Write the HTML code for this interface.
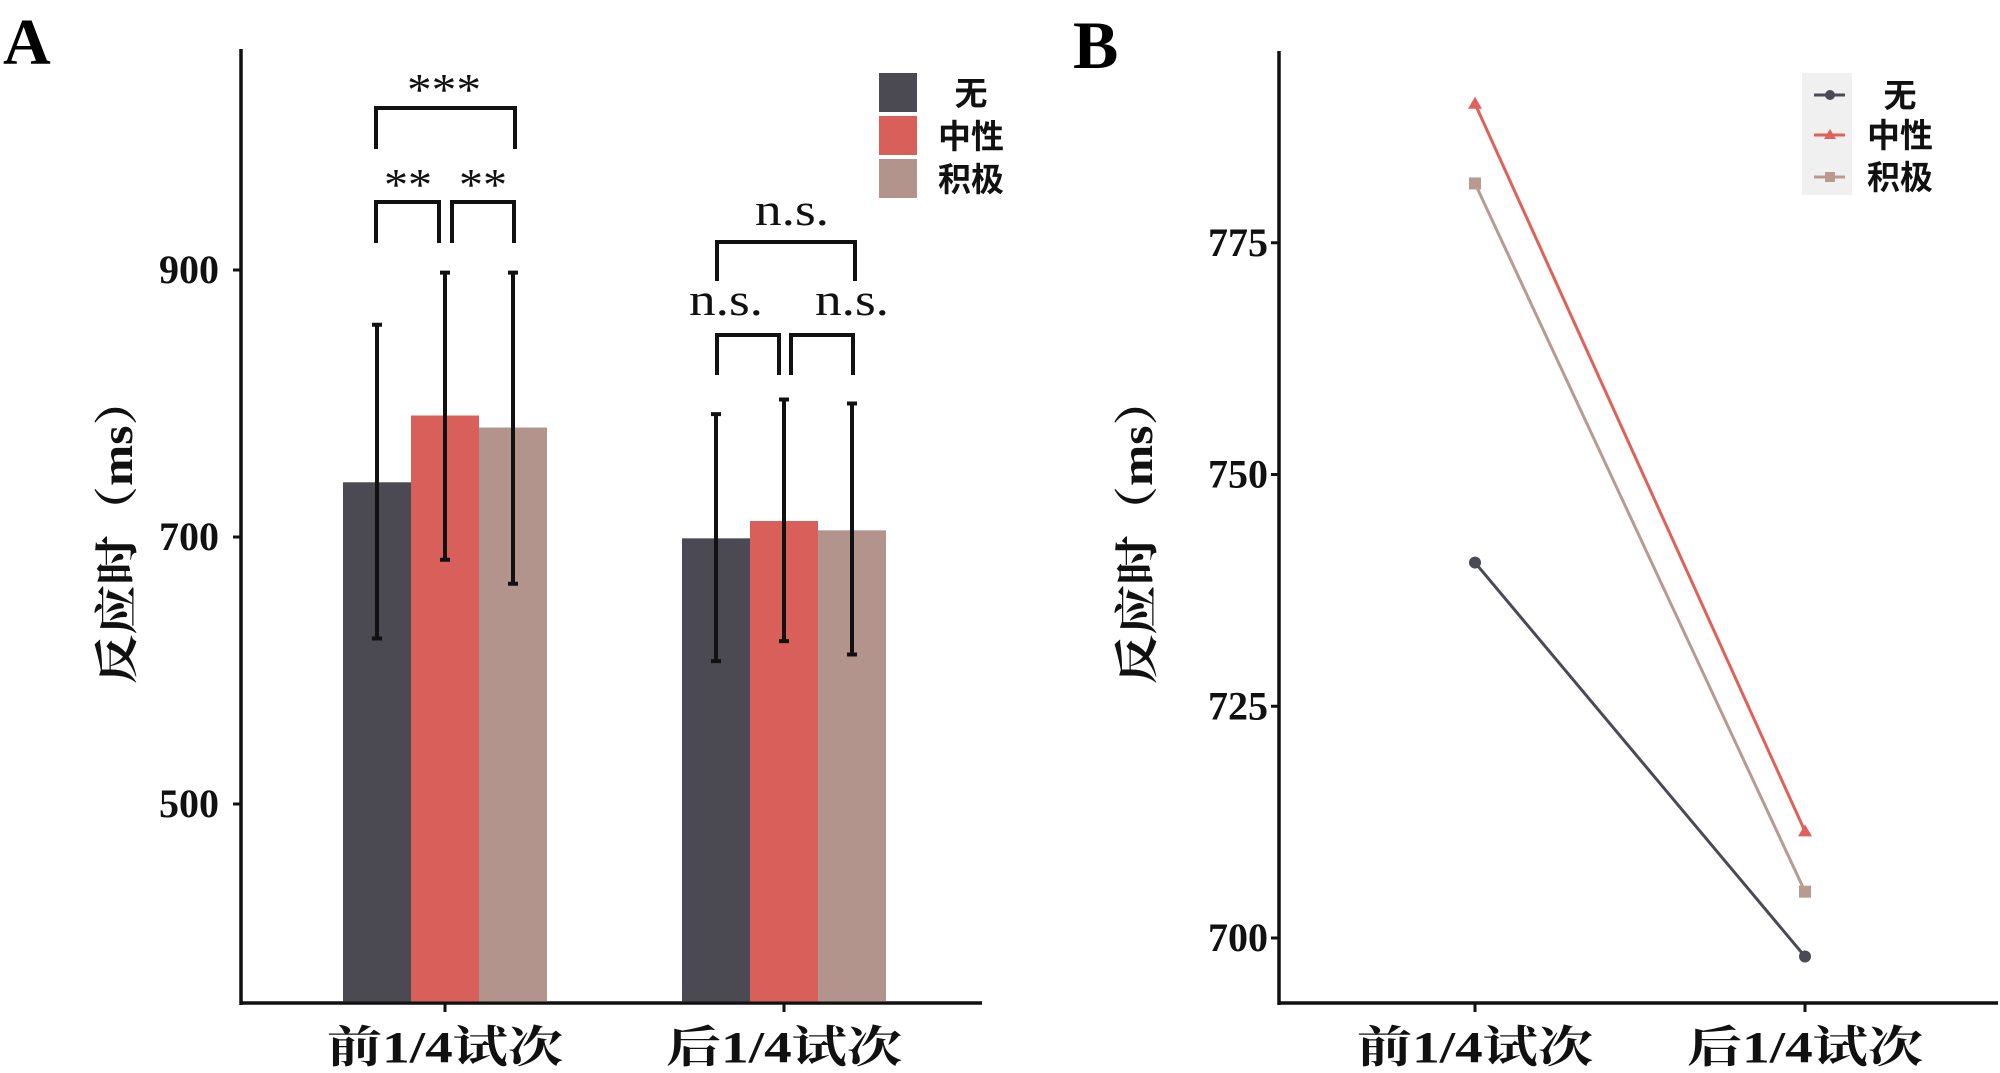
<!DOCTYPE html>
<html><head><meta charset="utf-8">
<style>
html,body{margin:0;padding:0;background:#fff;}
svg{display:block;}
.tick{font-family:"Liberation Serif",serif;font-weight:bold;font-size:40px;fill:#111;}
.cjk{font-family:"Liberation Serif","Noto Serif CJK SC","Noto Sans CJK SC",serif;font-weight:bold;fill:#111;}
.leg{font-family:"Liberation Sans","Noto Sans CJK SC",sans-serif;font-weight:bold;font-size:33px;fill:#111;}
.sig{font-family:"Liberation Serif",serif;font-size:46px;fill:#111;}
</style></head>
<body>
<svg id="chart" width="2000" height="1073" viewBox="0 0 2000 1073" xmlns="http://www.w3.org/2000/svg">
<text x="3" y="64" font-family="Liberation Serif,serif" font-weight="bold" font-size="66">A</text>
<text x="1073" y="68" font-family="Liberation Serif,serif" font-weight="bold" font-size="68">B</text>
<g id="pa"></g>
<g id="pb"></g>
</svg>
<script>
const categories = ["前1/4试次", "后1/4试次"];
const seriesNames = ["无", "中性", "积极"];
const barMeans = [[741, 699], [791, 712], [782, 705]];
const barUpper = [[859, 792], [898, 803], [898, 800]];
const barLower = [[624, 607], [683, 622], [665, 612]];
const aTicks = [500, 700, 900];
const bTicks = [700, 725, 750, 775];
const lineMeans = [[740.5, 698.0], [790.0, 711.5], [781.4, 705.0]];

const NS = "http://www.w3.org/2000/svg";
function mk(parent, tag, attrs, text) {
  const e = document.createElementNS(NS, tag);
  for (const k in attrs) e.setAttribute(k, attrs[k]);
  if (text !== undefined) e.textContent = text;
  parent.appendChild(e);
  return e;
}
const barColors = ["#4b4a53", "#d9605a", "#b3948c"];
const lineColors = ["#4a4a55", "#e0605a", "#b89a90"];

// ---------- Panel A ----------
const pa = document.getElementById("pa");
const aY = v => 537 - (v - 700) * 1.335;
const aX0 = 241, aXEnd = 982, aYTop = 49, aYBot = 1003;
const aCenters = [445, 784];
const bw = 68;
let e;
e = mk(pa, "line", {x1: aX0, y1: aYTop, x2: aX0, y2: aYBot + 2, stroke: "#111", "stroke-width": 3.5});
 
e = mk(pa, "line", {x1: aX0 - 1, y1: aYBot, x2: aXEnd, y2: aYBot, stroke: "#111", "stroke-width": 3.5});
 
aTicks.forEach(t => {
  const y = aY(t);
  e = mk(pa, "line", {x1: aX0 - 8, y1: y, x2: aX0, y2: y, stroke: "#111", "stroke-width": 3});
   
  e = mk(pa, "text", {x: 219, y: y + 13, "text-anchor": "end", class: "tick"}, String(t));
   
});
categories.forEach((c, ci) => {
  const cx = aCenters[ci];
  e = mk(pa, "line", {x1: cx, y1: aYBot, x2: cx, y2: aYBot + 9, stroke: "#111", "stroke-width": 3});
   
  e = mk(pa, "text", {x: cx, y: 1062, "text-anchor": "middle", class: "cjk", "font-size": 44, textLength: 236, lengthAdjust: "spacingAndGlyphs"}, c);
   
  seriesNames.forEach((s, si) => {
    const x = cx - 1.5 * bw + si * bw;
    const top = aY(barMeans[si][ci]);
    e = mk(pa, "rect", {x: x, y: top, width: bw, height: aYBot - top - 1.5, fill: barColors[si]});
     
    const mx = x + bw / 2, yu = aY(barUpper[si][ci]), yl = aY(barLower[si][ci]);
    e = mk(pa, "path", {d: `M${mx},${yu}V${yl}M${mx-5},${yu}H${mx+5}M${mx-5},${yl}H${mx+5}`, stroke: "#111", "stroke-width": 4, fill: "none"});
     
  });
});
e = mk(pa, "text", {x: -530, y: 132, transform: "rotate(-90)", "text-anchor": "middle", class: "cjk", "font-size": 44, textLength: 308, lengthAdjust: "spacingAndGlyphs"}, "反应时（ms）");
 

// significance brackets
function bracket(x1, x2, yt, yb, label, tx, ty, tw, name) {
  e = mk(pa, "path", {d: `M${x1},${yb}V${yt}H${x2}V${yb}`, stroke: "#111", "stroke-width": 4, fill: "none"});
   
  e = mk(pa, "text", {x: tx, y: ty, "text-anchor": "middle", class: "sig", textLength: tw, lengthAdjust: "spacingAndGlyphs"}, label);
   
}
bracket(376, 515, 108, 149, "***", 444, 105, 74, "sig-bracket-a-all");
bracket(376, 439, 202, 243, "**", 408, 200, 48, "sig-bracket-a-left");
bracket(452, 514, 202, 243, "**", 483, 200, 48, "sig-bracket-a-right");
bracket(717, 855, 242, 281, "n.s.", 792, 225, 74, "sig-bracket-b-all");
bracket(717, 779, 335, 375, "n.s.", 726, 315, 74, "sig-bracket-b-left");
bracket(791, 853, 335, 375, "n.s.", 852, 315, 74, "sig-bracket-b-right");

// legend A
const legAY = [73, 116, 159];
seriesNames.forEach((s, i) => {
  e = mk(pa, "rect", {x: 879, y: legAY[i], width: 38, height: 39, fill: barColors[i]});
   
  e = mk(pa, "text", {x: 971, y: legAY[i] + 32, "text-anchor": "middle", class: "leg"}, s);
   
});

// ---------- Panel B ----------
const pb = document.getElementById("pb");
const bY = v => 938 - (v - 700) * 9.27;
const bX0 = 1279, bXEnd = 1998, bYTop = 51, bYBot = 1003;
const bCenters = [1475, 1805];
e = mk(pb, "line", {x1: bX0, y1: bYTop, x2: bX0, y2: bYBot + 2, stroke: "#111", "stroke-width": 3.5});
 
e = mk(pb, "line", {x1: bX0 - 1, y1: bYBot, x2: bXEnd, y2: bYBot, stroke: "#111", "stroke-width": 3.5});
 
bTicks.forEach(t => {
  const y = bY(t);
  e = mk(pb, "line", {x1: bX0 - 8, y1: y, x2: bX0, y2: y, stroke: "#111", "stroke-width": 3});
   
  e = mk(pb, "text", {x: 1268, y: y + 13, "text-anchor": "end", class: "tick"}, String(t));
   
});
categories.forEach((c, ci) => {
  const cx = bCenters[ci];
  e = mk(pb, "line", {x1: cx, y1: bYBot, x2: cx, y2: bYBot + 9, stroke: "#111", "stroke-width": 3});
   
  e = mk(pb, "text", {x: cx, y: 1062, "text-anchor": "middle", class: "cjk", "font-size": 44, textLength: 236, lengthAdjust: "spacingAndGlyphs"}, c);
   
});
e = mk(pb, "text", {x: -530, y: 1152, transform: "rotate(-90)", "text-anchor": "middle", class: "cjk", "font-size": 44, textLength: 308, lengthAdjust: "spacingAndGlyphs"}, "反应时（ms）");
 

function marker(g, shape, x, y, col, r) {
  if (shape === 0) return mk(g, "circle", {cx: x, cy: y, r: r, fill: col});
  if (shape === 1) return mk(g, "path", {d: `M${x},${y-r-1}L${x+r+1},${y+r-1}L${x-r-1},${y+r-1}Z`, fill: col});
  return mk(g, "rect", {x: x - r, y: y - r, width: 2 * r, height: 2 * r, fill: col});
}
seriesNames.forEach((s, si) => {
  const pts = lineMeans[si].map((v, ci) => [bCenters[ci], bY(v)]);
  e = mk(pb, "polyline", {points: pts.map(p => p.join(",")).join(" "), stroke: lineColors[si], "stroke-width": 3, fill: "none"});
   
  pts.forEach(p => {
    e = marker(pb, si, p[0], p[1], lineColors[si], 6);
     
  });
});
// legend B
e = mk(pb, "rect", {x: 1802, y: 73, width: 50, height: 122, fill: "#f0f0f0"});
 
const legBY = [95, 135, 177];
seriesNames.forEach((s, i) => {
  e = mk(pb, "line", {x1: 1814, y1: legBY[i], x2: 1845, y2: legBY[i], stroke: lineColors[i], "stroke-width": 3});
   
  e = marker(pb, i, 1830, legBY[i], lineColors[i], 5);
   
  e = mk(pb, "text", {x: 1900, y: legBY[i] + 12, "text-anchor": "middle", class: "leg"}, s);
   
});
</script>
</body></html>
